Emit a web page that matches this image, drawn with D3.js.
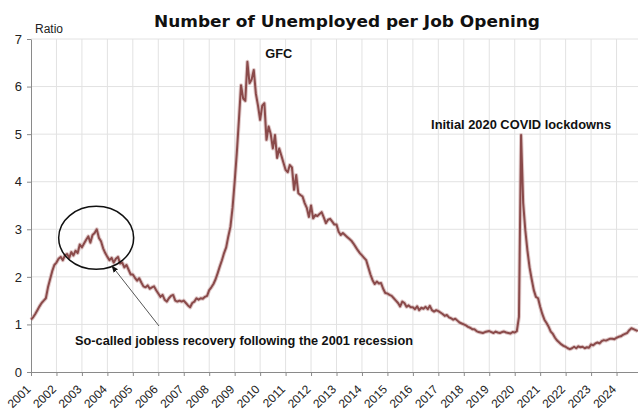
<!DOCTYPE html>
<html lang="en">
<head>
    <meta charset="UTF-8">
    <script src="https://d3js.org/d3.v7.min.js"></script>
    <title>Number of Unemployed per Job Opening</title>
    <style>
        body {
            margin: 0;
            background: white;
        }

        .grid line {
            stroke: #e2e2e2;
            stroke-width: 1px;
        }

        .axis text, .year-label {
            font-family: "Liberation Sans", Arial, sans-serif;
            font-size: 13px;
            fill: #222;
        }

        .year-label {
            font-size: 12px;
        }

        .axis path, .axis line {
            stroke: #8a8a8a;
        }

        .title {
            font-family: "DejaVu Sans", Verdana, sans-serif;
            font-weight: bold;
            font-size: 16px;
            fill: #111;
        }

        .note {
            font-family: "Liberation Sans", Arial, sans-serif;
            font-weight: bold;
            font-size: 13px;
            fill: #111;
        }
    </style>
</head>
<body>
<div id="chart"></div>

<script>
    /*------------------- Data --------------------*/
    const startYear = 2001;

    // monthly ratio, one line per year (Jan..Dec)
    const ratios = [
        1.10, 1.15, 1.22, 1.30, 1.38, 1.45, 1.50, 1.55, 1.78, 1.95, 2.12, 2.25, // 2001
        2.30, 2.38, 2.42, 2.35, 2.45, 2.48, 2.40, 2.52, 2.45, 2.55, 2.50, 2.68, // 2002
        2.62, 2.70, 2.78, 2.85, 2.72, 2.88, 2.92, 3.00, 2.82, 2.75, 2.60, 2.50, // 2003
        2.42, 2.35, 2.40, 2.30, 2.38, 2.42, 2.28, 2.30, 2.20, 2.25, 2.15, 2.05, // 2004
        2.05, 1.98, 1.92, 1.97, 1.88, 1.80, 1.78, 1.82, 1.75, 1.78, 1.80, 1.72, // 2005
        1.65, 1.58, 1.62, 1.52, 1.48, 1.55, 1.60, 1.62, 1.50, 1.48, 1.50, 1.48, // 2006
        1.50, 1.45, 1.40, 1.36, 1.45, 1.48, 1.55, 1.52, 1.55, 1.54, 1.58, 1.60, // 2007
        1.72, 1.78, 1.85, 1.95, 2.08, 2.22, 2.35, 2.50, 2.62, 2.85, 3.05, 3.45, // 2008
        4.00, 4.60, 5.30, 6.03, 5.75, 5.70, 6.52, 6.07, 6.15, 6.35, 5.85, 5.60, // 2009
        5.30, 5.60, 5.65, 4.88, 5.16, 5.00, 4.70, 4.98, 4.50, 4.70, 4.55, 4.40, // 2010
        4.25, 4.20, 4.35, 4.30, 3.83, 4.14, 3.76, 3.72, 3.69, 3.55, 3.45, 3.26, // 2011
        3.50, 3.23, 3.30, 3.28, 3.32, 3.36, 3.25, 3.13, 3.20, 3.22, 3.16, 3.10, // 2012
        3.10, 2.95, 2.88, 2.92, 2.88, 2.84, 2.80, 2.76, 2.70, 2.63, 2.56, 2.50, // 2013
        2.45, 2.40, 2.35, 2.20, 2.05, 1.93, 1.85, 1.90, 1.86, 1.87, 1.75, 1.66, // 2014
        1.65, 1.62, 1.60, 1.55, 1.50, 1.45, 1.38, 1.48, 1.45, 1.37, 1.40, 1.36, // 2015
        1.36, 1.32, 1.38, 1.30, 1.35, 1.33, 1.37, 1.32, 1.39, 1.30, 1.27, 1.30, // 2016
        1.28, 1.25, 1.22, 1.18, 1.20, 1.15, 1.13, 1.10, 1.12, 1.08, 1.04, 1.02, // 2017
        1.00, 0.98, 0.95, 0.93, 0.90, 0.90, 0.86, 0.84, 0.83, 0.82, 0.84, 0.85, // 2018
        0.86, 0.84, 0.82, 0.85, 0.83, 0.82, 0.84, 0.85, 0.83, 0.82, 0.81, 0.84, // 2019
        0.83, 0.86, 1.16, 4.98, 3.55, 2.98, 2.55, 2.20, 1.95, 1.72, 1.58, 1.55, // 2020
        1.37, 1.22, 1.10, 1.03, 0.95, 0.85, 0.80, 0.72, 0.66, 0.62, 0.58, 0.55, // 2021
        0.53, 0.50, 0.48, 0.50, 0.53, 0.50, 0.54, 0.52, 0.53, 0.50, 0.52, 0.51, // 2022
        0.58, 0.56, 0.60, 0.62, 0.60, 0.65, 0.67, 0.66, 0.68, 0.70, 0.70, 0.69, // 2023
        0.72, 0.74, 0.75, 0.78, 0.80, 0.82, 0.88, 0.92, 0.90, 0.88, 0.86        // 2024
    ];

    const yearTicks = d3.range(2001, 2025);
    const ratioTicks = [0, 1, 2, 3, 4, 5, 6, 7];

    const titleText = "Number of Unemployed per Job Opening";
    const yLabel = "Ratio";

    // [text, year, ratio] anchor of each callout
    const gfcNote = ["GFC", 2010.2, 6.6];
    const covidNote = ["Initial 2020 COVID lockdowns", 2020.25, 5.1];
    const joblessNote = ["So-called jobless recovery following the 2001 recession", 2002.75, -0.42];

    /*------------------- Window setting --------------------*/
    const width = 638;
    const height = 410;
    const margin = {top: 39, right: -4, bottom: 38, left: 31};

    const svg = d3.select("#chart").append("svg")
        .attr("width", width)
        .attr("height", height);

    const xScale = d3.scaleLinear()
        .domain([2001, 2025])
        .range([margin.left, width - margin.right]);

    const yScale = d3.scaleLinear()
        .domain([0, 7])
        .range([height - margin.bottom, margin.top]);

    // grid lines
    const grid = svg.append("g").attr("class", "grid");
    grid.selectAll(".vgrid")
        .data(yearTicks.slice(1))
        .enter()
        .append("line")
        .attr("x1", d => xScale(d))
        .attr("x2", d => xScale(d))
        .attr("y1", yScale(0))
        .attr("y2", yScale(7));
    grid.selectAll(".hgrid")
        .data(ratioTicks.slice(1))
        .enter()
        .append("line")
        .attr("x1", xScale(2001))
        .attr("x2", width)
        .attr("y1", d => yScale(d))
        .attr("y2", d => yScale(d));

    // axes
    svg.append("g")
        .attr("class", "axis")
        .attr("transform", `translate(${margin.left},0)`)
        .call(d3.axisLeft(yScale).tickValues(ratioTicks).tickFormat(d3.format("d"))
            .tickSize(4).tickPadding(5).tickSizeOuter(0));

    svg.append("g")
        .attr("class", "axis")
        .attr("transform", `translate(0,${yScale(0)})`)
        .call(d3.axisBottom(xScale).tickValues(yearTicks).tickFormat("").tickSize(4).tickSizeOuter(0));

    // rotated year labels, each inside its own rotated group
    svg.append("g")
        .selectAll("g")
        .data(yearTicks)
        .enter()
        .append("g")
        .attr("transform", d => `translate(${xScale(d) - 2.5},${yScale(0) + 15}) rotate(-45)`)
        .append("text")
        .attr("class", "year-label")
        .attr("text-anchor", "end")
        .attr("dy", "0.35em")
        .text(d => d);

    svg.append("text")
        .attr("x", 35)
        .attr("y", 33)
        .style("font-family", "Liberation Sans, Arial, sans-serif")
        .style("font-size", "12px")
        .style("fill", "#222")
        .text(yLabel);

    svg.append("text")
        .attr("class", "title")
        .attr("x", 347)
        .attr("y", 27)
        .attr("text-anchor", "middle")
        .attr("textLength", 386)
        .attr("lengthAdjust", "spacingAndGlyphs")
        .text(titleText);

    // the series
    const series = ratios.map((v, i) => ({t: startYear + i / 12, v: v}));

    const line = d3.line()
        .x(d => xScale(d.t))
        .y(d => yScale(d.v));

    svg.append("path")
        .datum(series)
        .attr("fill", "none")
        .attr("stroke", "#caa3a3")
        .attr("stroke-width", 4)
        .attr("stroke-linejoin", "round")
        .attr("opacity", 0.6)
        .attr("d", line);

    svg.append("path")
        .datum(series)
        .attr("fill", "none")
        .attr("stroke", "#8a4a4a")
        .attr("stroke-width", 2)
        .attr("stroke-linejoin", "round")
        .attr("d", line);

    // callouts
    svg.append("text")
        .attr("class", "note")
        .attr("x", xScale(gfcNote[1]))
        .attr("y", yScale(gfcNote[2]))
        .attr("textLength", 27)
        .attr("lengthAdjust", "spacingAndGlyphs")
        .style("font-size", "12px")
        .text(gfcNote[0]);

    svg.append("text")
        .attr("class", "note")
        .attr("x", xScale(covidNote[1]))
        .attr("y", yScale(covidNote[2]))
        .attr("text-anchor", "middle")
        .attr("textLength", 180)
        .attr("lengthAdjust", "spacingAndGlyphs")
        .style("font-size", "12.5px")
        .text(covidNote[0]);

    svg.append("text")
        .attr("class", "note")
        .attr("x", 75)
        .attr("y", 345)
        .attr("textLength", 338)
        .attr("lengthAdjust", "spacingAndGlyphs")
        .text(joblessNote[0]);

    svg.append("ellipse")
        .attr("cx", xScale(2003.56))
        .attr("cy", yScale(2.82))
        .attr("rx", 37.5)
        .attr("ry", 31.5)
        .attr("fill", "none")
        .attr("stroke", "#111")
        .attr("stroke-width", 1.5);

    svg.append("defs").append("marker")
        .attr("id", "arrow")
        .attr("viewBox", "0 0 10 10")
        .attr("refX", 9)
        .attr("refY", 5)
        .attr("markerWidth", 7)
        .attr("markerHeight", 7)
        .attr("orient", "auto")
        .append("path")
        .attr("d", "M0,1L10,5L0,9z")
        .attr("fill", "#111");

    svg.append("line")
        .attr("x1", 159)
        .attr("y1", 326)
        .attr("x2", 112)
        .attr("y2", 266)
        .attr("stroke", "#555")
        .attr("stroke-width", 1)
        .attr("marker-end", "url(#arrow)");
</script>
</body>
</html>
